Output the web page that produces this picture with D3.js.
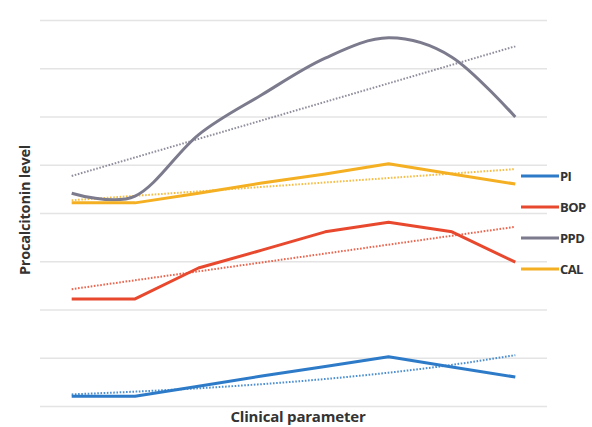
<!DOCTYPE html>
<html>
<head>
<meta charset="utf-8">
<script src="https://cdn.jsdelivr.net/npm/d3@7"></script>
<style>
  body { margin: 0; background: #fff; }
</style>
</head>
<body>
<div id="chart"></div>
<script>
// values (1 unit = one gridline step)
const categories = ["1", "2", "3", "4", "5", "6", "7", "8"]
const PI  = [0.20, 0.20, 0.41, 0.62, 0.82, 1.02, 0.81, 0.60]
const BOP = [2.22, 2.22, 2.86, 3.23, 3.61, 3.81, 3.61, 2.98]
const PPD = [4.41, 4.35, 5.62, 6.45, 7.21, 7.63, 7.23, 5.99]
const CAL = [4.21, 4.21, 4.41, 4.62, 4.81, 5.02, 4.81, 4.60]
const seriesNames = ["PI", "BOP", "PPD", "CAL"]
const trendTypes = ["exp", "linear", "linear", "linear"]

let margin = {top: 20, right: 45, bottom: 21, left: 40}
let width = 592 - margin.left - margin.right
let height = 427 - margin.top - margin.bottom

const colors = {PI: "#2d7bc8", BOP: "#e8492e", PPD: "#7c7b8d", CAL: "#f4b022"}
const seriesData = {PI: PI, BOP: BOP, PPD: PPD, CAL: CAL}

let svg = d3.select("#chart")
    .append("svg")
    .attr("width", 592)
    .attr("height", 427)
    .append("g")
    .attr("transform", "translate(" + margin.left + "," + margin.top + ")")

let xScale = d3.scalePoint()
    .domain(categories)
    .range([0, width])
    .padding(0.5)

let yScale = d3.scaleLinear()
    .domain([0, 8])
    .range([height, 0])

// gridlines
svg.append("g")
    .call(d3.axisLeft(yScale).ticks(8).tickSize(-width).tickFormat(""))
    .call(g => g.select(".domain").remove())
    .selectAll("line")
    .attr("stroke", "#e4e4e4")
    .attr("stroke-width", 1.5)

// trend fit over category index 1..n
function fitTrend(values, type) {
    let xs = values.map((d, i) => i + 1)
    let ys = type == "exp" ? values.map(d => Math.log(d)) : values
    let mx = d3.mean(xs), my = d3.mean(ys)
    let sxy = d3.sum(xs, (x, i) => (x - mx) * (ys[i] - my))
    let sxx = d3.sum(xs, x => (x - mx) * (x - mx))
    let b = sxy / sxx, a = my - b * mx
    return xs.map(x => type == "exp" ? Math.exp(a + b * x) : a + b * x)
}

let lineGen = d3.line()
    .x((d, i) => xScale(categories[i]))
    .y(d => yScale(d))

seriesNames.forEach((name, k) => {
    let trend = fitTrend(seriesData[name], trendTypes[k])
    svg.append("path")
        .attr("d", lineGen.curve(d3.curveNatural)(trend))
        .attr("stroke", colors[name])
        .attr("stroke-width", 2)
        .attr("stroke-dasharray", "1.6,1.6")
        .attr("opacity", 0.85)
        .attr("fill", "none")
        .attr("id", "trend-" + name)
})

seriesNames.forEach(name => {
    let curve = name == "PPD" ? d3.curveCardinal.tension(0) : d3.curveLinear
    svg.append("path")
        .attr("d", lineGen.curve(curve)(seriesData[name]))
        .attr("stroke", colors[name])
        .attr("stroke-width", 3)
        .attr("stroke-linejoin", "round")
        .attr("fill", "none")
        .attr("id", "line-" + name)
})

// legend
let legend = svg.append("g")
    .attr("transform", "translate(" + (width - 26) + ",156)")

seriesNames.forEach((name, i) => {
    let row = legend.append("g").attr("transform", "translate(0," + (i * 31) + ")")
    row.append("line")
        .attr("x1", 0).attr("x2", 38)
        .attr("stroke", colors[name])
        .attr("stroke-width", 3)
    row.append("text")
        .attr("x", 39)
        .attr("dy", "0.35em")
        .style("font-family", "Open Sans, sans-serif")
        .style("font-size", "13px")
        .style("font-weight", "bold")
        .style("letter-spacing", "-0.6px")
        .attr("fill", "#333")
        .text(name)
})

svg.append("text")
    .attr("text-anchor", "middle")
    .attr("transform", "translate(-10," + 190 + ") rotate(-90)")
    .style("font-family", "Open Sans, sans-serif")
    .style("font-size", "14.5px")
    .style("font-weight", "bold")
    .style("letter-spacing", "-0.2px")
    .attr("fill", "#333")
    .text("Procalcitonin level")

svg.append("text")
    .attr("text-anchor", "middle")
    .attr("x", 258)
    .attr("y", height + 16)
    .style("font-family", "Open Sans, sans-serif")
    .style("font-size", "15px")
    .style("font-weight", "bold")
    .style("letter-spacing", "-0.2px")
    .attr("fill", "#333")
    .text("Clinical parameter")
</script>
</body>
</html>
